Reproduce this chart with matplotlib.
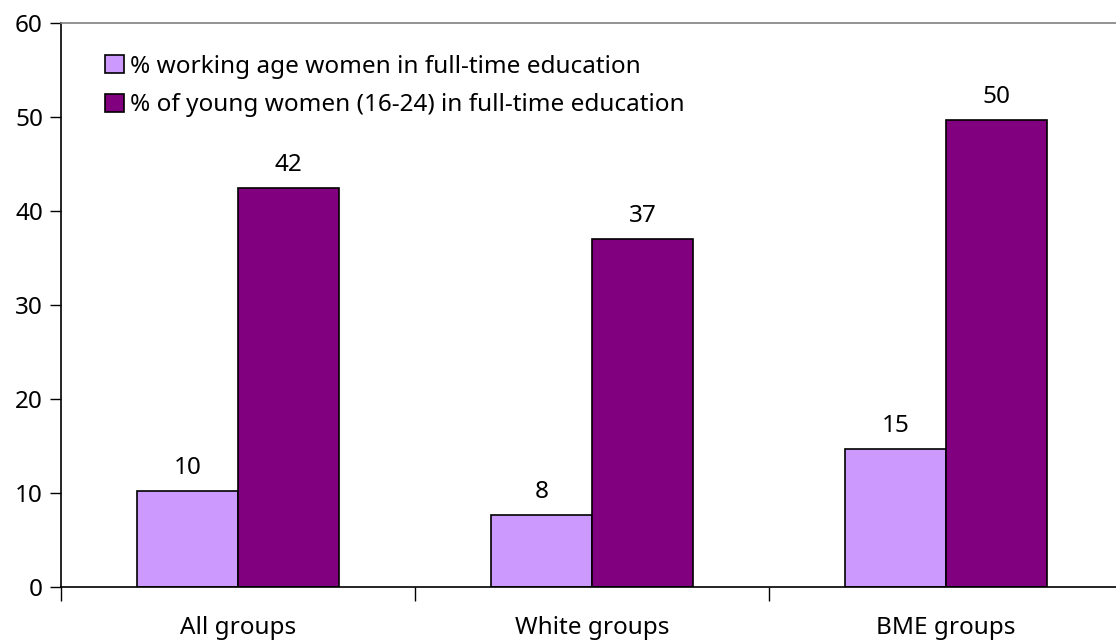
import matplotlib
matplotlib.use("Agg")
import matplotlib.pyplot as plt
import numpy as np

categories = ["All groups", "White groups", "BME groups"]
series_names = ["% working age women in full-time education",
                "% of young women (16-24) in full-time education"]
working_age = [10.2, 7.7, 14.7]
young_women = [42.4, 37.0, 49.7]
label_working = ["10", "8", "15"]
label_young = ["42", "37", "50"]
colors = ["#CC99FF", "#800080"]

plt.rcParams['font.family'] = ['Noto Sans', 'DejaVu Sans']
FS = 17.5

fig = plt.figure(figsize=(11.16, 6.42), dpi=100)
ax = fig.add_axes([61/1116, 1 - 587/642, (1116 - 61)/1116, (587 - 23)/642])

x = np.arange(len(categories))
w = 0.285
b1 = ax.bar(x - w/2, working_age, w, color=colors[0], edgecolor="black", linewidth=1.2,
            label=series_names[0])
b2 = ax.bar(x + w/2, young_women, w, color=colors[1], edgecolor="black", linewidth=1.2,
            label=series_names[1])

for bars, labs in ((b1, label_working), (b2, label_young)):
    for r, t in zip(bars, labs):
        ax.annotate(t, (r.get_x() + r.get_width()/2, r.get_height()),
                    xytext=(0, 8), textcoords="offset points",
                    ha="center", va="bottom", fontsize=FS)

ax.set_xlim(-0.5, -0.5 + 1055/354)
ax.set_ylim(0, 60)
ax.set_yticks(range(0, 61, 10))
ax.tick_params(axis="y", labelsize=FS, length=8, width=1, direction="out", pad=5)

# category boundary ticks
ax.set_xticks([-0.5, 0.5, 1.5], minor=True)
ax.set_xticks(x)
ax.set_xticklabels(categories, fontsize=FS)
ax.tick_params(axis="x", which="major", length=0, pad=21)
ax.tick_params(axis="x", which="minor", length=10, width=1, direction="out")

ax.spines["right"].set_visible(False)
ax.spines["top"].set_color("#808080")
ax.spines["top"].set_linewidth(1.2)
ax.spines["left"].set_linewidth(1.2)
ax.spines["bottom"].set_linewidth(1.2)

leg = ax.legend(loc="upper left", bbox_to_anchor=(0.042, 0.944), frameon=False,
                fontsize=FS, handlelength=0.75, handleheight=0.75, handletextpad=0.25,
                labelspacing=0.6, borderaxespad=0, borderpad=0)

fig.savefig("out.png", dpi=100)
